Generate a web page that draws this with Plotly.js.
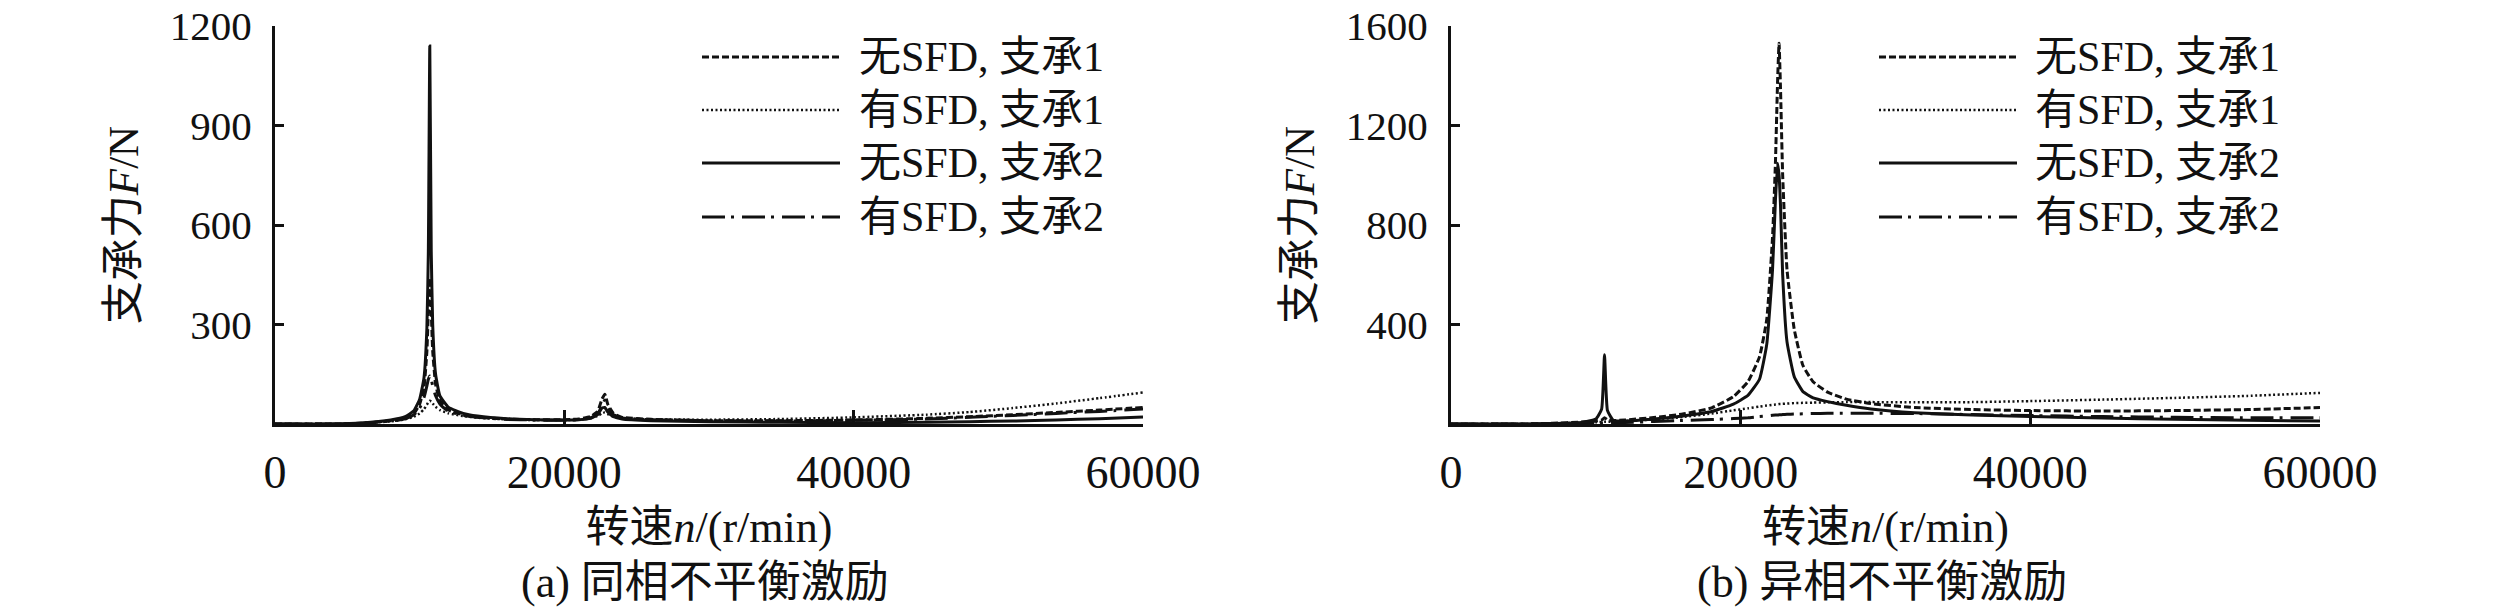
<!DOCTYPE html>
<html>
<head>
<meta charset="utf-8">
<script src="https://cdn.plot.ly/plotly-3.0.1.min.js"></script>
<style>html,body{margin:0;padding:0;background:#fff;}#chart{width:2520px;height:613px;}</style>
</head>
<body>
<div id="chart"></div>
<script>
// ---------- Data ----------
// Panel (a): in-phase unbalance excitation
const rpmA = [0, 4000, 6000, 8000, 9000, 9600, 10000, 10300, 10500, 10600, 10700, 10800, 10900, 11100, 11400, 12000, 13000, 14000, 16000, 18000, 20000, 21000, 21800, 22300, 22600, 22800, 23000, 23400, 24000, 26000, 30000, 35000, 40000, 45000, 48000, 51000, 54000, 57000, 60000];
const a_noSFD_b1 = [0, 0, 2, 10, 18, 32, 60, 110, 220, 340, 440, 340, 220, 120, 70, 42, 28, 21, 15, 13, 13, 15, 22, 38, 75, 90, 60, 32, 20, 14, 10, 10, 12, 17, 22, 28, 35, 42, 50];
const a_SFD_b1   = [0, 0, 2, 8, 14, 22, 32, 45, 58, 66, 70, 68, 62, 52, 42, 32, 24, 19, 14, 12, 12, 13, 17, 24, 32, 35, 30, 22, 17, 14, 13, 15, 20, 28, 36, 48, 62, 78, 95];
const a_noSFD_b2 = [0, 0, 3, 12, 22, 40, 75, 140, 290, 520, 1140, 520, 300, 150, 85, 50, 32, 24, 16, 13, 12, 13, 17, 28, 48, 50, 36, 22, 15, 10, 7, 5, 4, 5, 7, 9, 12, 16, 21];
const a_SFD_b2   = [0, 0, 2, 9, 16, 28, 48, 80, 115, 135, 145, 135, 115, 85, 60, 38, 26, 20, 14, 12, 11, 13, 18, 30, 55, 72, 50, 28, 18, 13, 10, 9, 11, 15, 20, 26, 32, 38, 45];

// Panel (b): anti-phase unbalance excitation
const rpmB = [0, 5000, 7000, 9000, 10000, 10400, 10600, 10800, 11200, 12000, 14000, 16000, 18000, 19500, 20500, 21300, 21800, 22200, 22400, 22550, 22650, 22750, 22900, 23200, 23700, 24300, 25000, 26000, 27300, 29000, 32000, 36000, 40000, 45000, 50000, 55000, 60000];
const b_noSFD_b1 = [0, 0, 3, 8, 12, 16, 25, 16, 14, 16, 26, 40, 65, 110, 170, 270, 420, 750, 1050, 1380, 1531, 1350, 1000, 620, 380, 235, 170, 128, 100, 82, 66, 58, 54, 52, 54, 58, 66];
const b_SFD_b1   = [0, 0, 2, 5, 7, 8, 9, 9, 10, 12, 18, 28, 42, 55, 63, 70, 74, 77, 78, 79, 80, 80, 81, 82, 84, 85, 86, 87, 88, 88, 87, 88, 92, 98, 105, 113, 125];
const b_noSFD_b2 = [0, 0, 2, 6, 20, 60, 278, 55, 15, 12, 20, 32, 50, 80, 115, 180, 320, 620, 900, 1048, 1000, 880, 600, 330, 190, 130, 105, 90, 75, 60, 45, 36, 30, 24, 19, 15, 12];
const b_SFD_b2   = [0, 0, 1, 2, 3, 4, 4, 4, 5, 6, 10, 14, 18, 22, 25, 30, 32, 35, 36, 36, 37, 37, 38, 39, 40, 41, 42, 43, 43, 43, 42, 38, 34, 30, 27, 25, 25];

const seriesNames = ['无SFD, 支承1', '有SFD, 支承1', '无SFD, 支承2', '有SFD, 支承2'];
const xTickVals = [0, 20000, 40000, 60000];
const xTickText = ['0', '20000', '40000', '60000'];
const yTickValsA = [300, 600, 900, 1200];
const yTickValsB = [400, 800, 1200, 1600];
const xTitle = '转速<i>n</i>/(r/min)';
const yTitle = '支承力<i>F</i>/N';
const captions = ['(a) 同相不平衡激励', '(b) 异相不平衡激励'];

// ---------- Styles ----------
const W = 2520, H = 613;
const FONT = "'Liberation Serif', 'Times New Roman', 'Noto Sans CJK SC', serif";
const INK = '#111';
const styles = [
  {dash: '7px,3px', width: 3},            // 无SFD, 支承1
  {dash: '2px,2.5px', width: 2.5},        // 有SFD, 支承1
  {dash: 'solid', width: 3},              // 无SFD, 支承2
  {dash: '23px,6px,3px,8px', width: 3}    // 有SFD, 支承2
];
const px = v => v / W;
const py = v => 1 - v / H;

function mk(x, y, i, xa, ya) {
  return {x: x, y: y, type: 'scatter', mode: 'lines', name: seriesNames[i],
    xaxis: xa, yaxis: ya, showlegend: false,
    line: {color: INK, width: styles[i].width, dash: styles[i].dash, shape: 'spline', smoothing: 0.4}};
}

const traces = [
  mk(rpmA, a_noSFD_b1, 0, 'x', 'y'),
  mk(rpmA, a_SFD_b1, 1, 'x', 'y'),
  mk(rpmA, a_SFD_b2, 3, 'x', 'y'),
  mk(rpmA, a_noSFD_b2, 2, 'x', 'y'),
  mk(rpmB, b_SFD_b1, 1, 'x2', 'y2'),
  mk(rpmB, b_SFD_b2, 3, 'x2', 'y2'),
  mk(rpmB, b_noSFD_b2, 2, 'x2', 'y2'),
  mk(rpmB, b_noSFD_b1, 0, 'x2', 'y2')
];

function xAxis(domain, anchor) {
  return {domain: domain, anchor: anchor, range: [0, 60000], showgrid: false, zeroline: false,
    showline: true, linecolor: INK, linewidth: 3,
    ticks: 'inside', ticklen: 14, tickwidth: 3, tickcolor: INK,
    tickmode: 'array', tickvals: xTickVals, ticktext: xTickText,
    tickfont: {family: FONT, size: 46, color: INK}, ticklabelstandoff: 6,
    title: {text: xTitle, font: {family: FONT, size: 44, color: INK}, standoff: 14}};
}
function yAxis(domain, anchor, range, tickvals) {
  return {domain: domain, anchor: anchor, range: range, showgrid: false, zeroline: false,
    showline: true, linecolor: INK, linewidth: 3,
    ticks: 'inside', ticklen: 9, tickwidth: 3, tickcolor: INK,
    tickmode: 'array', tickvals: tickvals,
    tickfont: {family: FONT, size: 41, color: INK}, ticklabelstandoff: 12,
    title: {text: yTitle, font: {family: FONT, size: 43, color: INK}, standoff: 18}};
}

const yDom = [py(424), py(26)];
const layout = {
  width: W, height: H, margin: {l: 0, r: 0, t: 0, b: 0}, paper_bgcolor: '#fff', plot_bgcolor: '#fff',
  showlegend: false,
  xaxis: xAxis([px(275), px(1143)], 'y'),
  yaxis: yAxis(yDom, 'x', [0, 1200], yTickValsA),
  xaxis2: xAxis([px(1451), px(2320)], 'y2'),
  yaxis2: yAxis(yDom, 'x2', [0, 1600], yTickValsB),
  shapes: [], annotations: []
};

// Manual legends (long line samples as in the reference)
const legendRows = [57, 110, 163, 217];
const legendPos = [{x0: 702, x1: 840, tx: 857}, {x0: 1879, x1: 2017, tx: 2033}];
legendPos.forEach(lp => {
  seriesNames.forEach((nm, i) => {
    layout.shapes.push({type: 'line', xref: 'paper', yref: 'paper',
      x0: px(lp.x0), x1: px(lp.x1), y0: py(legendRows[i]), y1: py(legendRows[i]),
      line: {color: INK, width: styles[i].width, dash: styles[i].dash}});
    layout.annotations.push({xref: 'paper', yref: 'paper', x: px(lp.tx), y: py(legendRows[i]),
      xanchor: 'left', yanchor: 'middle', showarrow: false, text: nm,
      font: {family: FONT, size: 42, color: INK}});
  });
});
// Sub-figure captions
[705, 1882].forEach((cx, k) => {
  layout.annotations.push({xref: 'paper', yref: 'paper', x: px(cx), y: py(582),
    xanchor: 'center', yanchor: 'middle', showarrow: false, text: captions[k],
    font: {family: FONT, size: 44, color: INK}});
});

Plotly.newPlot('chart', traces, layout, {staticPlot: true, displayModeBar: false});
</script>
</body>
</html>
